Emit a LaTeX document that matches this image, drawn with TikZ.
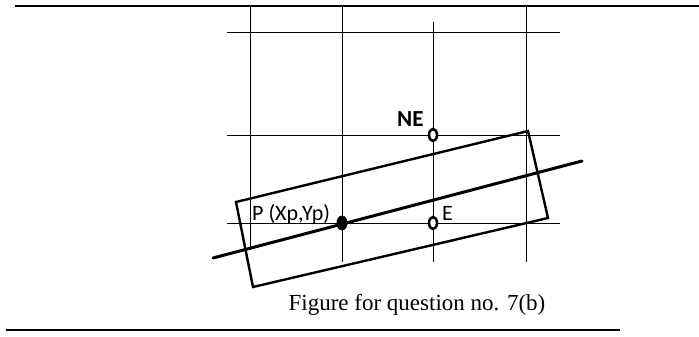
\documentclass[tikz,border=0pt]{standalone}
\usepackage{fontspec}
\setmainfont{Liberation Serif}
\newfontfamily\labelfont{Carlito}
\usetikzlibrary{shapes.geometric}
\tikzset{
  gridline/.style={line width=0.9pt},
  rule/.style={line width=1.4pt},
  pixelline/.style={line width=3pt, line cap=round},
  boxline/.style={line width=2.4pt, line join=miter},
  ptlabel/.style={font=\labelfont\fontsize{22}{22}\selectfont, inner sep=0pt, anchor=base west},
  openpt/.style={ellipse, draw, line width=2.6pt, fill=white, minimum width=8pt,
                 minimum height=12pt, inner sep=0pt},
  fullpt/.style={ellipse, fill=black, minimum width=11pt, minimum height=15pt,
                 inner sep=0pt},
}
\begin{document}
\begin{tikzpicture}[x=1pt, y=-1pt]
  \useasboundingbox (0,0) rectangle (699,337);

  % Page rules
  \draw[rule] (15,6) -- (699,6);
  \draw[rule] (6,330) -- (620,330);

  % Pixel grid
  \foreach \gy in {32, 135, 223}
    \draw[gridline] (227,\gy) -- (560,\gy);
  \draw[gridline] (250,6) -- (250,250);
  \draw[gridline] (342,6) -- (342,262);
  \draw[gridline] (433,22) -- (433,262);
  \draw[gridline] (526,6) -- (526,262);

  % Line and its thick box
  \coordinate (lstart) at (213,258);
  \coordinate (lend) at (582,161);
  \draw[pixelline] (lstart) -- (lend);
  \draw[boxline] (236,202) -- (528,131) -- (548,218) -- (253,287) -- cycle;

  % Points
  \node[fullpt] (P) at (342,223) {};
  \node[openpt] (E) at (433,223) {};
  \node[openpt] (NE) at (433,135) {};

  % Labels
  \node[ptlabel, font=\labelfont\bfseries\fontsize{23}{23}\selectfont] (NElbl) at (397,126) {NE};
  \node[ptlabel] (Plbl) at (252,220) {P (Xp,Yp)};
  \node[ptlabel] (Elbl) at (442,220) {E};

  % Caption
  \node[font=\fontsize{23}{23}\selectfont, inner sep=0pt, anchor=base] (cap) at (417,310)
    {Figure for question no. 7(b)};
\end{tikzpicture}
\end{document}
